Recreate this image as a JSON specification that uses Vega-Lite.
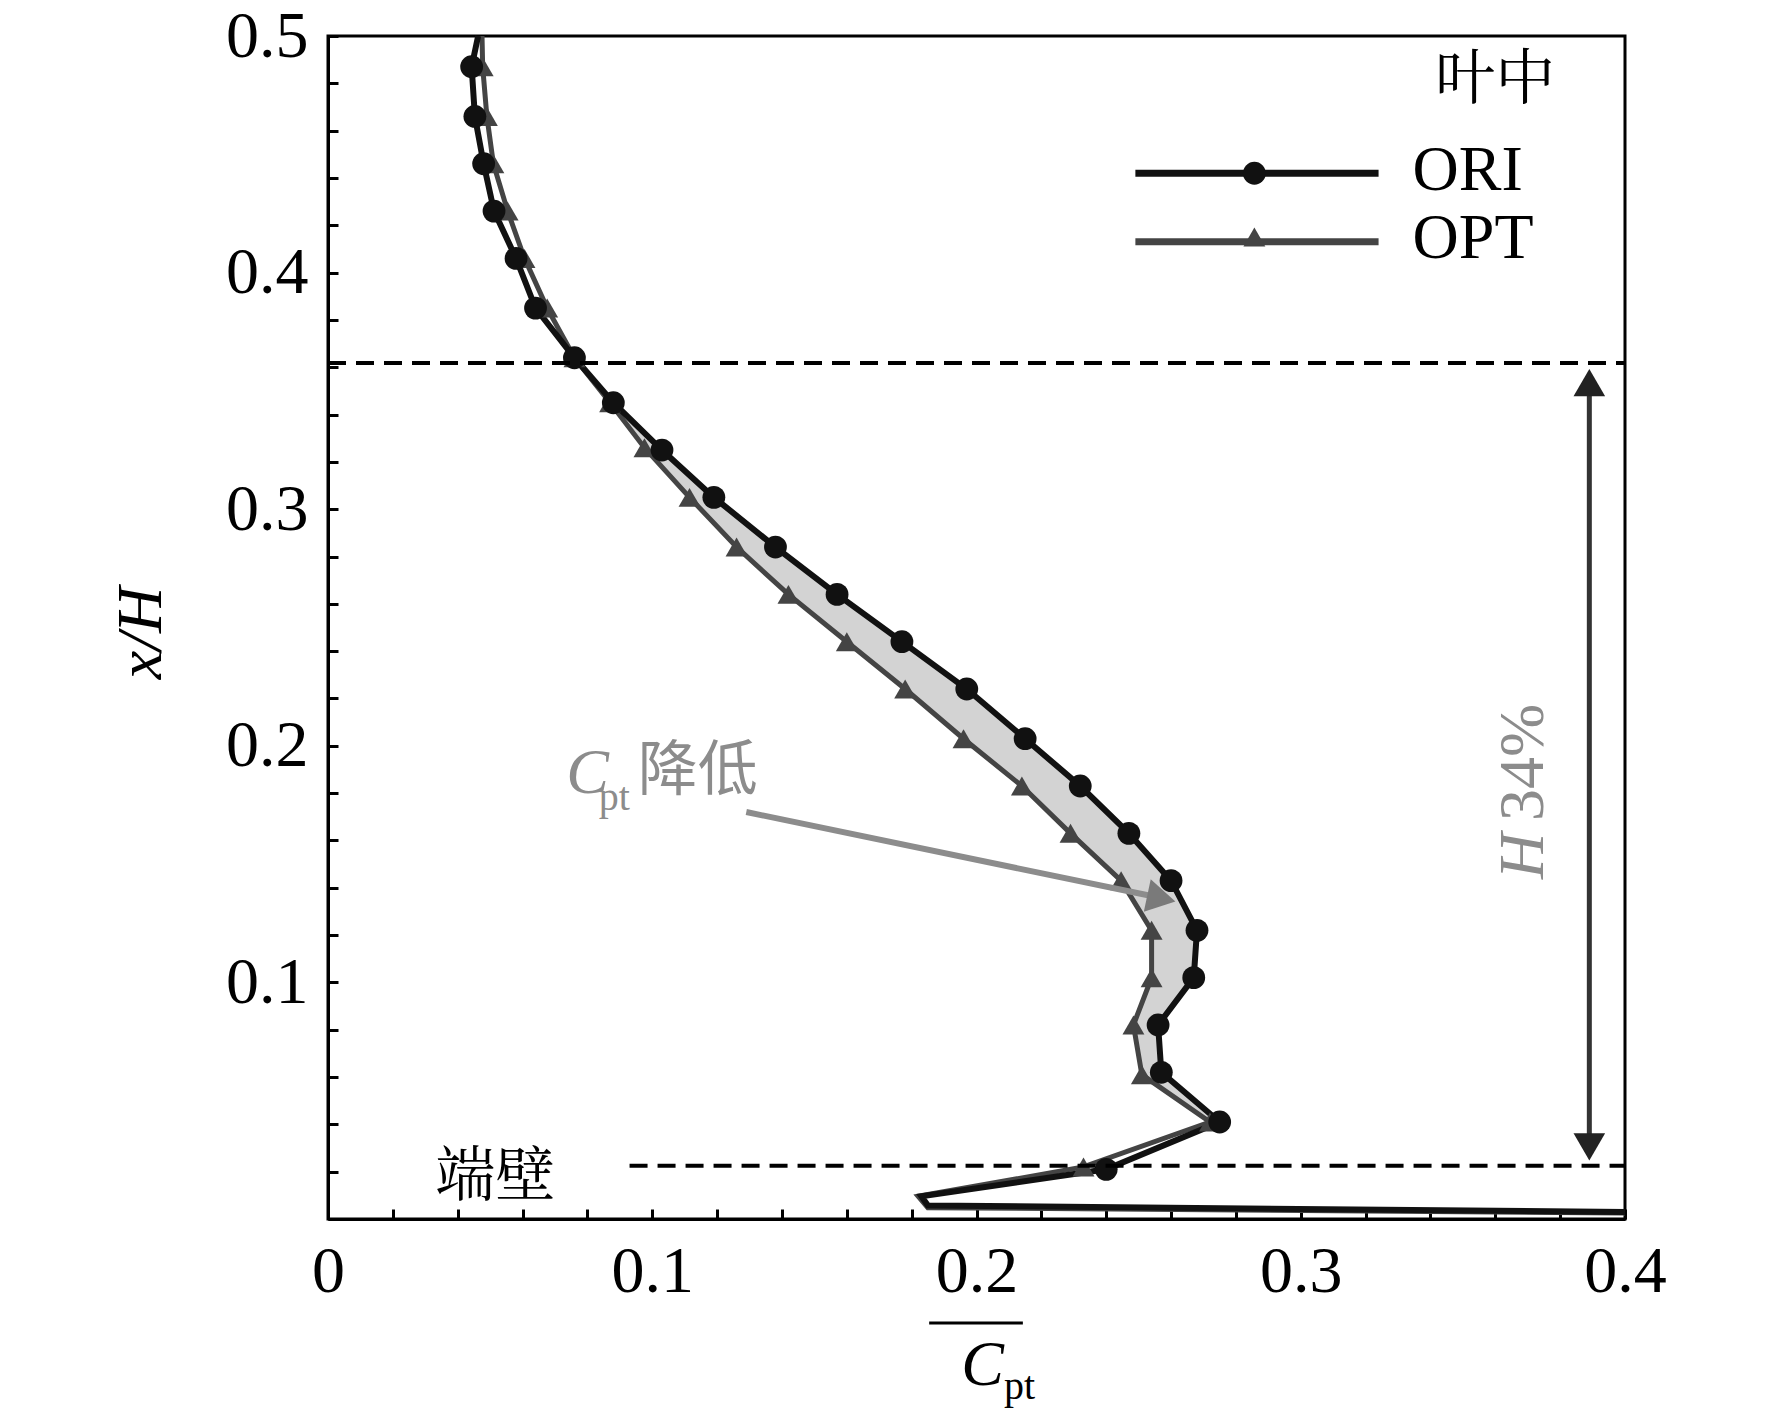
{
  "$schema": "https://vega.github.io/schema/vega-lite/v6.json",
  "autosize": "none",
  "width": 1297,
  "height": 1183,
  "padding": {"left": 328, "top": 36, "right": 147, "bottom": 202},
  "background": "white",
  "config": {
    "view": {"stroke": "black", "strokeWidth": 3},
    "font": "Liberation Serif"
  },
  "datasets": {
    "curves": [
      {"s": "ORI", "i": 0, "x": 0.0463, "y": 0.5, "m": false},
      {"s": "ORI", "i": 1, "x": 0.0443, "y": 0.487, "m": true},
      {"s": "ORI", "i": 2, "x": 0.0453, "y": 0.466, "m": true},
      {"s": "ORI", "i": 3, "x": 0.048, "y": 0.446, "m": true},
      {"s": "ORI", "i": 4, "x": 0.0512, "y": 0.426, "m": true},
      {"s": "ORI", "i": 5, "x": 0.058, "y": 0.406, "m": true},
      {"s": "ORI", "i": 6, "x": 0.064, "y": 0.385, "m": true},
      {"s": "ORI", "i": 7, "x": 0.076, "y": 0.364, "m": true},
      {"s": "ORI", "i": 8, "x": 0.088, "y": 0.345, "m": true},
      {"s": "ORI", "i": 9, "x": 0.103, "y": 0.325, "m": true},
      {"s": "ORI", "i": 10, "x": 0.119, "y": 0.305, "m": true},
      {"s": "ORI", "i": 11, "x": 0.138, "y": 0.284, "m": true},
      {"s": "ORI", "i": 12, "x": 0.157, "y": 0.264, "m": true},
      {"s": "ORI", "i": 13, "x": 0.177, "y": 0.244, "m": true},
      {"s": "ORI", "i": 14, "x": 0.197, "y": 0.224, "m": true},
      {"s": "ORI", "i": 15, "x": 0.215, "y": 0.203, "m": true},
      {"s": "ORI", "i": 16, "x": 0.232, "y": 0.183, "m": true},
      {"s": "ORI", "i": 17, "x": 0.247, "y": 0.163, "m": true},
      {"s": "ORI", "i": 18, "x": 0.26, "y": 0.143, "m": true},
      {"s": "ORI", "i": 19, "x": 0.268, "y": 0.122, "m": true},
      {"s": "ORI", "i": 20, "x": 0.267, "y": 0.102, "m": true},
      {"s": "ORI", "i": 21, "x": 0.256, "y": 0.082, "m": true},
      {"s": "ORI", "i": 22, "x": 0.257, "y": 0.062, "m": true},
      {"s": "ORI", "i": 23, "x": 0.275, "y": 0.041, "m": true},
      {"s": "ORI", "i": 24, "x": 0.24, "y": 0.021, "m": true},
      {"s": "ORI", "i": 25, "x": 0.183, "y": 0.0096, "m": false},
      {"s": "ORI", "i": 26, "x": 0.185, "y": 0.0057, "m": false},
      {"s": "ORI", "i": 27, "x": 0.4, "y": 0.003, "m": false},
      {"s": "OPT", "i": 0, "x": 0.0475, "y": 0.5, "m": false},
      {"s": "OPT", "i": 1, "x": 0.0477, "y": 0.487, "m": true},
      {"s": "OPT", "i": 2, "x": 0.049, "y": 0.466, "m": true},
      {"s": "OPT", "i": 3, "x": 0.051, "y": 0.446, "m": true},
      {"s": "OPT", "i": 4, "x": 0.0554, "y": 0.426, "m": true},
      {"s": "OPT", "i": 5, "x": 0.0606, "y": 0.406, "m": true},
      {"s": "OPT", "i": 6, "x": 0.0676, "y": 0.385, "m": true},
      {"s": "OPT", "i": 7, "x": 0.076, "y": 0.364, "m": true},
      {"s": "OPT", "i": 8, "x": 0.087, "y": 0.345, "m": true},
      {"s": "OPT", "i": 9, "x": 0.0976, "y": 0.326, "m": true},
      {"s": "OPT", "i": 10, "x": 0.1115, "y": 0.305, "m": true},
      {"s": "OPT", "i": 11, "x": 0.126, "y": 0.284, "m": true},
      {"s": "OPT", "i": 12, "x": 0.142, "y": 0.264, "m": true},
      {"s": "OPT", "i": 13, "x": 0.16, "y": 0.244, "m": true},
      {"s": "OPT", "i": 14, "x": 0.178, "y": 0.224, "m": true},
      {"s": "OPT", "i": 15, "x": 0.196, "y": 0.203, "m": true},
      {"s": "OPT", "i": 16, "x": 0.214, "y": 0.183, "m": true},
      {"s": "OPT", "i": 17, "x": 0.229, "y": 0.163, "m": true},
      {"s": "OPT", "i": 18, "x": 0.2446, "y": 0.143, "m": true},
      {"s": "OPT", "i": 19, "x": 0.254, "y": 0.122, "m": true},
      {"s": "OPT", "i": 20, "x": 0.254, "y": 0.102, "m": true},
      {"s": "OPT", "i": 21, "x": 0.2484, "y": 0.082, "m": true},
      {"s": "OPT", "i": 22, "x": 0.251, "y": 0.061, "m": true},
      {"s": "OPT", "i": 23, "x": 0.272, "y": 0.041, "m": true},
      {"s": "OPT", "i": 24, "x": 0.233, "y": 0.022, "m": true},
      {"s": "OPT", "i": 25, "x": 0.182, "y": 0.0096, "m": false},
      {"s": "OPT", "i": 26, "x": 0.185, "y": 0.0048, "m": false},
      {"s": "OPT", "i": 27, "x": 0.4, "y": 0.0025, "m": false}
    ],
    "band": [
      {"y": 0.364, "lo": 0.076, "hi": 0.076},
      {"y": 0.345, "lo": 0.087, "hi": 0.088},
      {"y": 0.325, "lo": 0.0976, "hi": 0.103},
      {"y": 0.305, "lo": 0.1115, "hi": 0.119},
      {"y": 0.284, "lo": 0.126, "hi": 0.138},
      {"y": 0.264, "lo": 0.142, "hi": 0.157},
      {"y": 0.244, "lo": 0.16, "hi": 0.177},
      {"y": 0.224, "lo": 0.178, "hi": 0.197},
      {"y": 0.203, "lo": 0.196, "hi": 0.215},
      {"y": 0.183, "lo": 0.214, "hi": 0.232},
      {"y": 0.163, "lo": 0.229, "hi": 0.247},
      {"y": 0.143, "lo": 0.2446, "hi": 0.26},
      {"y": 0.122, "lo": 0.254, "hi": 0.268},
      {"y": 0.102, "lo": 0.254, "hi": 0.267},
      {"y": 0.082, "lo": 0.2484, "hi": 0.256},
      {"y": 0.062, "lo": 0.251, "hi": 0.257},
      {"y": 0.041, "lo": 0.272, "hi": 0.275}
    ]
  },
  "encoding": {
    "x": {"type": "quantitative"},
    "y": {"type": "quantitative"}
  },
  "layer": [
    {
      "data": {"name": "band"},
      "mark": {"type": "area", "orient": "horizontal", "color": "#d3d3d3"},
      "encoding": {
        "y": {"field": "y", "type": "quantitative", "scale": {"domain": [0, 0.5]}},
        "x": {"field": "lo", "type": "quantitative", "scale": {"domain": [0, 0.4]}},
        "x2": {"field": "hi"}
      }
    },
    {
      "data": {"name": "curves"},
      "transform": [{"filter": "datum.s == 'OPT'"}],
      "mark": {"type": "line", "color": "#444444", "strokeWidth": 5},
      "encoding": {
        "x": {"field": "x", "type": "quantitative", "scale": {"domain": [0, 0.4]},
          "axis": {"values": [0, 0.02, 0.04, 0.06, 0.08, 0.1, 0.12, 0.14, 0.16, 0.18, 0.2, 0.22, 0.24, 0.26, 0.28, 0.3, 0.32, 0.34, 0.36, 0.38, 0.4],
            "labelExpr": "abs(datum.value*10 - round(datum.value*10)) < 0.001 ? (datum.value == 0 ? '0' : format(datum.value, '.1f')) : ''",
            "title": null, "grid": false, "domainColor": "black", "domainWidth": 3,
            "tickColor": "black", "tickWidth": 3, "tickSize": -10, "labelFlush": false, "labelOverlap": false,
            "labelFont": "Liberation Serif", "labelFontSize": 66, "labelColor": "black", "labelPadding": 30}},
        "y": {"field": "y", "type": "quantitative", "scale": {"domain": [0, 0.5]},
          "axis": {"values": [0, 0.02, 0.04, 0.06, 0.08, 0.1, 0.12, 0.14, 0.16, 0.18, 0.2, 0.22, 0.24, 0.26, 0.28, 0.3, 0.32, 0.34, 0.36, 0.38, 0.4, 0.42, 0.44, 0.46, 0.48, 0.5],
            "labelExpr": "datum.value > 0 && abs(datum.value*10 - round(datum.value*10)) < 0.001 ? format(datum.value, '.1f') : ''",
            "title": null, "grid": false, "domainColor": "black", "domainWidth": 3,
            "tickColor": "black", "tickWidth": 3, "tickSize": -10, "labelFlush": false, "labelOverlap": false,
            "labelFont": "Liberation Serif", "labelFontSize": 66, "labelColor": "black", "labelPadding": 30}},
        "order": {"field": "i", "type": "quantitative"}
      }
    },
    {
      "data": {"name": "curves"},
      "transform": [{"filter": "datum.s == 'ORI'"}],
      "mark": {"type": "line", "color": "#111111", "strokeWidth": 6},
      "encoding": {
        "x": {"field": "x", "type": "quantitative"},
        "y": {"field": "y", "type": "quantitative"},
        "order": {"field": "i", "type": "quantitative"}
      }
    },
    {
      "data": {"name": "curves"},
      "transform": [{"filter": "datum.s == 'OPT' && datum.m"}],
      "mark": {"type": "point", "shape": "triangle-up", "filled": true, "color": "#444444", "size": 480, "opacity": 1},
      "encoding": {
        "x": {"field": "x", "type": "quantitative"},
        "y": {"field": "y", "type": "quantitative"}
      }
    },
    {
      "data": {"name": "curves"},
      "transform": [{"filter": "datum.s == 'ORI' && datum.m"}],
      "mark": {"type": "point", "shape": "circle", "filled": true, "color": "#111111", "size": 520, "opacity": 1},
      "encoding": {
        "x": {"field": "x", "type": "quantitative"},
        "y": {"field": "y", "type": "quantitative"}
      }
    },
    {
      "data": {"values": [
        {"x": 0, "x2": 0.4, "y": 0.3618},
        {"x": 0.093, "x2": 0.4, "y": 0.0225}
      ]},
      "mark": {"type": "rule", "color": "black", "strokeWidth": 4, "strokeDash": [18, 10]},
      "encoding": {
        "x": {"field": "x", "type": "quantitative"},
        "x2": {"field": "x2"},
        "y": {"field": "y", "type": "quantitative"}
      }
    },
    {
      "data": {"values": [{"x": 0.389, "y": 0.352, "y2": 0.032}]},
      "mark": {"type": "rule", "color": "#333333", "strokeWidth": 5},
      "encoding": {
        "x": {"field": "x", "type": "quantitative"},
        "y": {"field": "y", "type": "quantitative"},
        "y2": {"field": "y2"}
      }
    },
    {
      "data": {"values": [
        {"x": 0.389, "y": 0.3535, "a": 0},
        {"x": 0.389, "y": 0.0305, "a": 180}
      ]},
      "mark": {"type": "point", "shape": "triangle-up", "filled": true, "color": "#222222", "size": 1000, "opacity": 1},
      "encoding": {
        "x": {"field": "x", "type": "quantitative"},
        "y": {"field": "y", "type": "quantitative"},
        "angle": {"field": "a", "type": "quantitative", "scale": null}
      }
    },
    {
      "data": {"values": [{"x": 0.129, "y": 0.172, "x2": 0.254, "y2": 0.1365}]},
      "mark": {"type": "rule", "color": "#8c8c8c", "strokeWidth": 6},
      "encoding": {
        "x": {"field": "x", "type": "quantitative"},
        "y": {"field": "y", "type": "quantitative"},
        "x2": {"field": "x2"},
        "y2": {"field": "y2"}
      }
    },
    {
      "data": {"values": [{"x": 0.257, "y": 0.1355}]},
      "mark": {"type": "point", "shape": "triangle-up", "filled": true, "color": "#7a7a7a", "size": 1100, "opacity": 1, "angle": 102},
      "encoding": {
        "x": {"field": "x", "type": "quantitative"},
        "y": {"field": "y", "type": "quantitative"}
      }
    },
    {
      "data": {"values": [
        {"s": "ORI", "x": 0.249, "y": 0.442},
        {"s": "ORI", "x": 0.324, "y": 0.442},
        {"s": "OPT", "x": 0.249, "y": 0.413},
        {"s": "OPT", "x": 0.324, "y": 0.413}
      ]},
      "mark": {"type": "line", "strokeWidth": 7},
      "encoding": {
        "x": {"field": "x", "type": "quantitative"},
        "y": {"field": "y", "type": "quantitative"},
        "detail": {"field": "s"},
        "color": {"field": "s", "type": "nominal", "scale": {"domain": ["ORI", "OPT"], "range": ["#111111", "#444444"]}, "legend": null}
      }
    },
    {
      "data": {"values": [{"x": 0.2857, "y": 0.442}]},
      "mark": {"type": "point", "shape": "circle", "filled": true, "color": "#111111", "size": 520, "opacity": 1},
      "encoding": {
        "x": {"field": "x", "type": "quantitative"},
        "y": {"field": "y", "type": "quantitative"}
      }
    },
    {
      "data": {"values": [{"x": 0.2857, "y": 0.415}]},
      "mark": {"type": "point", "shape": "triangle-up", "filled": true, "color": "#444444", "size": 480, "opacity": 1},
      "encoding": {
        "x": {"field": "x", "type": "quantitative"},
        "y": {"field": "y", "type": "quantitative"}
      }
    },
    {
      "data": {"values": [
        {"x": 0.3345, "y": 0.443, "t": "ORI"},
        {"x": 0.3345, "y": 0.414, "t": "OPT"}
      ]},
      "mark": {"type": "text", "align": "left", "baseline": "middle", "fontSize": 64, "color": "black", "font": "Liberation Serif"},
      "encoding": {
        "x": {"field": "x", "type": "quantitative"},
        "y": {"field": "y", "type": "quantitative"},
        "text": {"field": "t"}
      }
    },
    {
      "data": {"values": [
        {"x": 0.36, "y": 0.481, "t": "叶中"},
        {"x": 0.0516, "y": 0.0175, "t": "端壁"}
      ]},
      "mark": {"type": "text", "align": "center", "baseline": "middle", "fontSize": 60, "color": "black", "font": "Noto Serif CJK SC, Noto Sans CJK SC"},
      "encoding": {
        "x": {"field": "x", "type": "quantitative"},
        "y": {"field": "y", "type": "quantitative"},
        "text": {"field": "t"}
      }
    },
    {
      "data": {"values": [{"x": 0.0735, "y": 0.188, "t": "C"}]},
      "mark": {"type": "text", "align": "left", "baseline": "middle", "fontSize": 64, "fontStyle": "italic", "color": "#8c8c8c", "font": "Liberation Serif"},
      "encoding": {
        "x": {"field": "x", "type": "quantitative"},
        "y": {"field": "y", "type": "quantitative"},
        "text": {"field": "t"}
      }
    },
    {
      "data": {"values": [{"x": 0.0835, "y": 0.178, "t": "pt"}]},
      "mark": {"type": "text", "align": "left", "baseline": "middle", "fontSize": 40, "color": "#8c8c8c", "font": "Liberation Serif"},
      "encoding": {
        "x": {"field": "x", "type": "quantitative"},
        "y": {"field": "y", "type": "quantitative"},
        "text": {"field": "t"}
      }
    },
    {
      "data": {"values": [{"x": 0.0955, "y": 0.189, "t": "降低"}]},
      "mark": {"type": "text", "align": "left", "baseline": "middle", "fontSize": 60, "color": "#8c8c8c", "font": "Noto Sans CJK SC"},
      "encoding": {
        "x": {"field": "x", "type": "quantitative"},
        "y": {"field": "y", "type": "quantitative"},
        "text": {"field": "t"}
      }
    },
    {
      "data": {"values": [{"x": 0.369, "y": 0.193, "t": "34%"}]},
      "mark": {"type": "text", "align": "center", "baseline": "middle", "fontSize": 64, "angle": 270, "color": "#8c8c8c", "font": "Liberation Serif"},
      "encoding": {
        "x": {"field": "x", "type": "quantitative"},
        "y": {"field": "y", "type": "quantitative"},
        "text": {"field": "t"}
      }
    },
    {
      "data": {"values": [{"x": 0.369, "y": 0.1535, "t": "H"}]},
      "mark": {"type": "text", "align": "center", "baseline": "middle", "fontSize": 64, "angle": 270, "fontStyle": "italic", "color": "#8c8c8c", "font": "Liberation Serif"},
      "encoding": {
        "x": {"field": "x", "type": "quantitative"},
        "y": {"field": "y", "type": "quantitative"},
        "text": {"field": "t"}
      }
    },
    {
      "data": {"values": [{"x": -0.0575, "y": 0.2477, "t": "x/H"}]},
      "mark": {"type": "text", "align": "center", "baseline": "middle", "fontSize": 64, "angle": 270, "fontStyle": "italic", "color": "black", "font": "Liberation Serif"},
      "encoding": {
        "x": {"field": "x", "type": "quantitative"},
        "y": {"field": "y", "type": "quantitative"},
        "text": {"field": "t"}
      }
    },
    {
      "data": {"values": [{"x": 0.2085, "y": -0.062, "t": "C"}]},
      "mark": {"type": "text", "align": "right", "baseline": "middle", "fontSize": 64, "fontStyle": "italic", "color": "black", "font": "Liberation Serif"},
      "encoding": {
        "x": {"field": "x", "type": "quantitative"},
        "y": {"field": "y", "type": "quantitative"},
        "text": {"field": "t"}
      }
    },
    {
      "data": {"values": [{"x": 0.2085, "y": -0.071, "t": "pt"}]},
      "mark": {"type": "text", "align": "left", "baseline": "middle", "fontSize": 40, "color": "black", "font": "Liberation Serif"},
      "encoding": {
        "x": {"field": "x", "type": "quantitative"},
        "y": {"field": "y", "type": "quantitative"},
        "text": {"field": "t"}
      }
    },
    {
      "data": {"values": [{"x": 0.1854, "x2": 0.2143, "y": -0.044}]},
      "mark": {"type": "rule", "color": "black", "strokeWidth": 3},
      "encoding": {
        "x": {"field": "x", "type": "quantitative"},
        "x2": {"field": "x2"},
        "y": {"field": "y", "type": "quantitative"}
      }
    }
  ]
}
